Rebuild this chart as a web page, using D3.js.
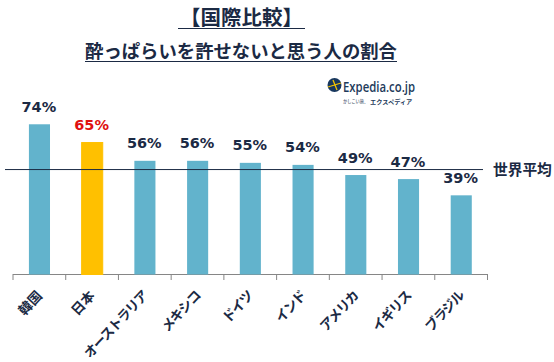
<!DOCTYPE html>
<html>
<head>
<meta charset="utf-8">
<script src="https://cdn.jsdelivr.net/npm/d3@7"></script>
<style>
html, body { margin: 0; padding: 0; background: #fff; }
svg { display: block; }
</style>
</head>
<body>
<svg id="chart" width="554" height="362"></svg>
<script>
const countries = ["韓国", "日本", "オーストラリア", "メキシコ", "ドイツ", "インド", "アメリカ", "イギリス", "ブラジル"];
const shares = [74, 65, 56, 56, 55, 54, 49, 47, 39];
const highlight = "日本";
const worldAverage = 51.7;

const navy = "#1b2a44";
const jpFont = "'Noto Sans CJK JP', sans-serif";
const numFont = "'DejaVu Sans', sans-serif";

const svg = d3.select("#chart");

const xScale = d3.scaleBand().domain(countries).range([12.5, 487]);
const yScale = d3.scaleLinear().domain([0, 100]).range([274.5, 71.5]);
const barWidth = xScale.bandwidth() * 0.4;

// titles
const titles = [
    { text: "【国際比較】", y: 25, size: 20.5, x0: 178, x1: 305, ly: 28.5 },
    { text: "酔っぱらいを許せないと思う人の割合", y: 58, size: 18.35, x0: 85, x1: 397, ly: 61.5 }
];
svg.selectAll(".title")
    .data(titles)
    .join("text")
    .attr("class", "title")
    .attr("x", d => (d.x0 + d.x1) / 2)
    .attr("y", d => d.y)
    .attr("text-anchor", "middle")
    .attr("font-family", jpFont)
    .attr("font-weight", 700)
    .attr("font-size", d => d.size)
    .attr("fill", navy)
    .text(d => d.text);
svg.selectAll(".title-line")
    .data(titles)
    .join("line")
    .attr("class", "title-line")
    .attr("x1", d => d.x0)
    .attr("x2", d => d.x1)
    .attr("y1", d => d.ly)
    .attr("y2", d => d.ly)
    .attr("stroke", navy)
    .attr("stroke-width", 1);

// axis, ticks on the band edges
const edgeScale = d3.scaleLinear().domain([0, countries.length]).range(xScale.range());
const xAxis = d3.axisBottom(edgeScale)
    .ticks(countries.length)
    .tickFormat("")
    .tickSize(6)
    .tickSizeOuter(0);
svg.append("g")
    .attr("transform", `translate(0,${yScale(0) - 0.5})`)
    .call(xAxis)
    .call(g => g.selectAll("path, line").attr("stroke", "#868686").attr("stroke-width", 1));

// bars
svg.selectAll(".bars")
    .data(countries)
    .join("rect")
    .attr("class", "bars")
    .attr("x", d => xScale(d) + (xScale.bandwidth() - barWidth) / 2 + 0.6)
    .attr("y", (d, i) => yScale(shares[i]))
    .attr("width", barWidth)
    .attr("height", (d, i) => yScale(0) - yScale(shares[i]))
    .attr("fill", d => d === highlight ? "#FFC000" : "#62B3CC")
    .attr("stroke", d => d === highlight ? "#FFC000" : "none");

// average line
svg.append("line")
    .attr("x1", 5)
    .attr("x2", 483)
    .attr("y1", yScale(worldAverage))
    .attr("y2", yScale(worldAverage))
    .attr("stroke", navy)
    .attr("stroke-width", 1);
svg.append("text")
    .attr("x", 493)
    .attr("y", yScale(worldAverage) + 5)
    .attr("font-family", jpFont)
    .attr("font-weight", 700)
    .attr("font-size", 14.7)
    .attr("fill", navy)
    .text("世界平均");

// value labels
svg.selectAll(".labels")
    .data(countries)
    .join("text")
    .attr("class", "labels")
    .attr("x", d => xScale(d) + xScale.bandwidth() / 2)
    .attr("y", (d, i) => yScale(shares[i]) - 12.5)
    .attr("text-anchor", "middle")
    .attr("font-family", numFont)
    .attr("font-weight", 700)
    .attr("font-size", 14.5)
    .attr("fill", d => d === highlight ? "#E01010" : navy)
    .text((d, i) => shares[i] + "%");

// category labels
svg.selectAll(".names")
    .data(countries)
    .join("text")
    .attr("class", "names")
    .attr("text-anchor", "end")
    .attr("transform", d => `translate(${xScale(d) + xScale.bandwidth() / 2 + 4},${yScale(0) + 22}) rotate(-47)`)
    .attr("font-family", jpFont)
    .attr("font-weight", 700)
    .attr("font-size", 13.5)
    .attr("letter-spacing", d => d.length > 2 ? -1.2 : 0)
    .attr("fill", navy)
    .text(d => d);

// logo
const logo = svg.append("g");
logo.append("circle").attr("cx", 334.5).attr("cy", 85).attr("r", 7).attr("fill", "#17375e");
logo.append("path")
    .attr("d", "M328 87 L341 83 M333 80 L337 90")
    .attr("stroke", "#f2c200")
    .attr("stroke-width", 1.3)
    .attr("fill", "none");
logo.append("text")
    .attr("x", 343)
    .attr("y", 92)
    .attr("font-family", "'Open Sans', sans-serif")
    .attr("font-weight", 600)
    .attr("font-size", 13.5)
    .attr("textLength", 72)
    .attr("lengthAdjust", "spacingAndGlyphs")
    .attr("fill", "#1d3a5a")
    .text("Expedia.co.jp");
logo.append("text")
    .attr("x", 343)
    .attr("y", 103)
    .attr("font-family", jpFont)
    .attr("font-weight", 500)
    .attr("font-size", 4.2)
    .attr("fill", "#4a5a70")
    .text("かしこい旅、");
logo.append("text")
    .attr("x", 370)
    .attr("y", 103.5)
    .attr("font-family", jpFont)
    .attr("font-weight", 700)
    .attr("font-size", 6.2)
    .attr("fill", "#1d3a5a")
    .text("エクスペディア");
</script>
</body>
</html>
